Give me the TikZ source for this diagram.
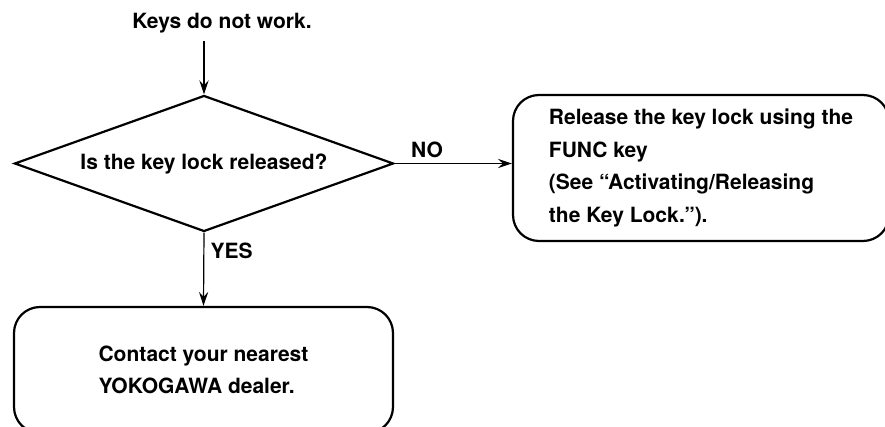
\documentclass[tikz,border=0pt]{standalone}
\usepackage{fontspec}
\setmainfont{TeX Gyre Heros}
\usetikzlibrary{shapes.geometric,arrows.meta}

\begin{document}
\begin{tikzpicture}[x=0.5pt,y=-0.5pt,
  every node/.style={font=\fontsize{10.5}{16.3}\selectfont\bfseries},
  flow/.style={-{Stealth[length=7pt,width=4.6pt,inset=2.5pt]},line width=0.6pt},
  decision/.style={draw,diamond,line width=1.1pt,aspect=2.79,inner sep=0pt,minimum width=189.5pt,minimum height=68pt},
  action/.style={draw,rectangle,rounded corners=13pt,line width=1.1pt,align=left},
  answer/.style={inner sep=0pt}]
\useasboundingbox (0,0) rectangle (885,427);
\clip (0,0) rectangle (885,427);
\node[inner sep=4pt] (start) at (222,22.7) {Keys do not work.};
\node[decision] (lock) at (204,163.5) {Is the key lock released?};
\node[action,minimum width=188pt,minimum height=73pt] (release) at (701,168) {Release the key lock using the\\FUNC key\\(See “Activating/Releasing\\the Key Lock.”).};
\node[action,minimum width=189.5pt,minimum height=63pt] (dealer) at (203.5,370) {Contact your nearest\\YOKOGAWA dealer.};
\draw[flow] (lock.north |- start.south) -- (lock.north);
\draw[flow] (lock.east) -- node[answer,at start,anchor=south west,xshift=8pt,yshift=2.5pt] {NO} (lock.east -| release.west);
\draw[flow] (lock.south) -- node[answer,at start,anchor=north west,xshift=3pt,yshift=-5pt] {YES} (dealer.north);
\end{tikzpicture}
\end{document}
